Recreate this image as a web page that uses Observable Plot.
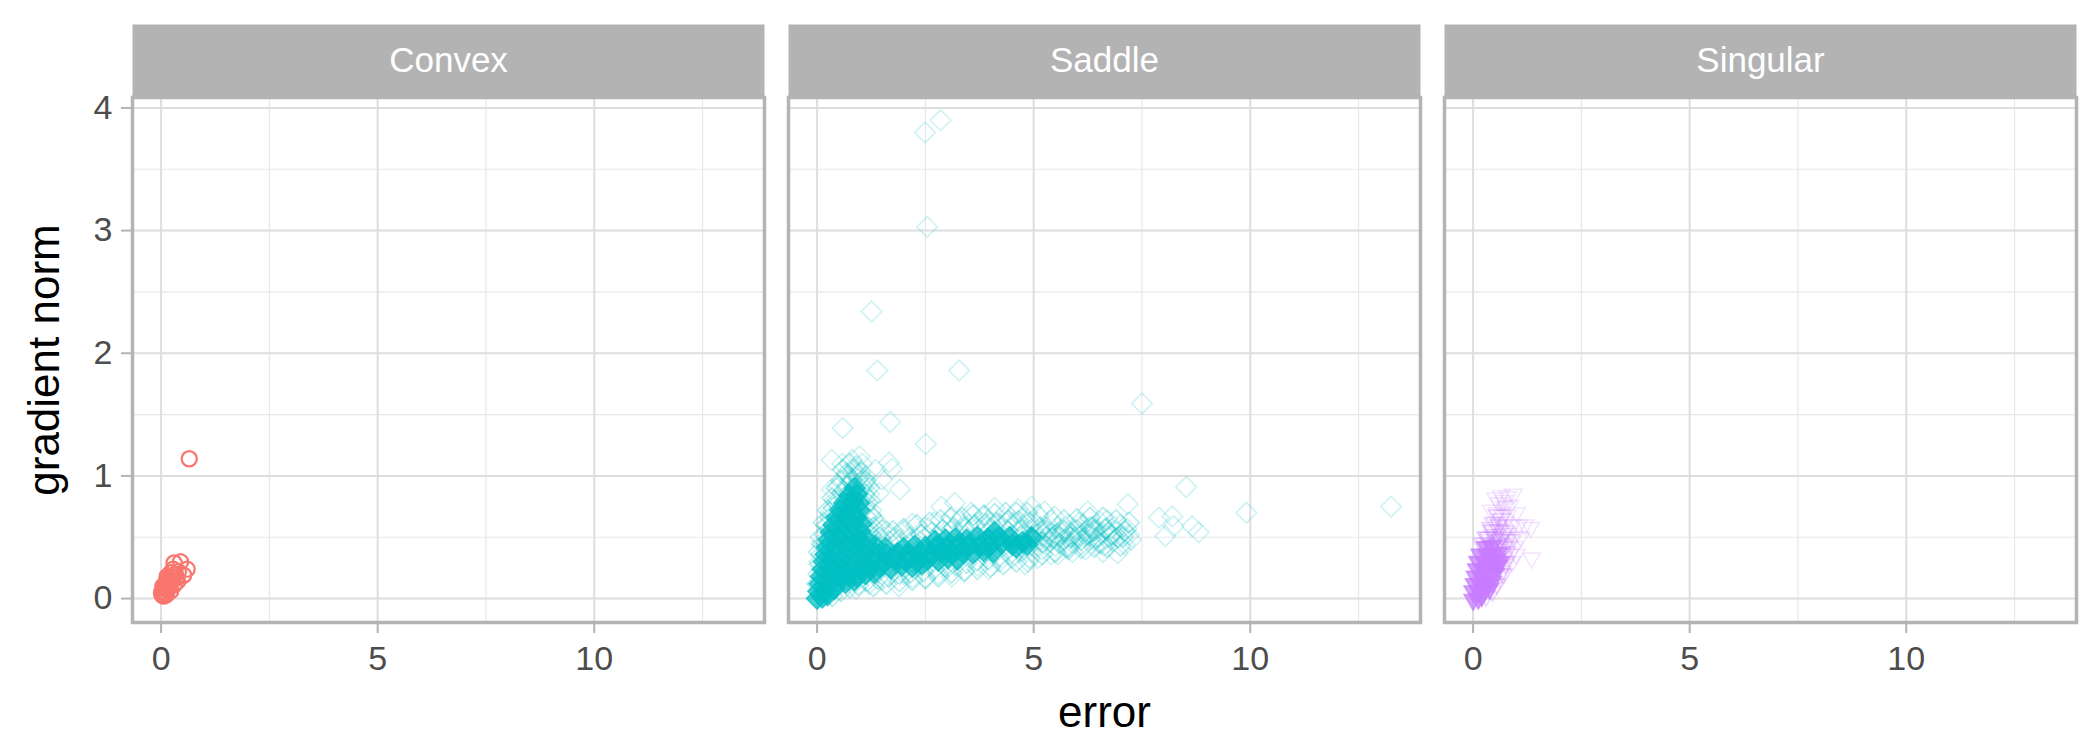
<!DOCTYPE html>
<html><head><meta charset="utf-8">
<script src="https://cdn.jsdelivr.net/npm/d3@7"></script>
<script src="https://cdn.jsdelivr.net/npm/@observablehq/plot@0.6"></script>
<style>html,body{margin:0;padding:0;background:#fff;} #chart{width:2100px;height:750px;}</style>
</head><body><div id="chart"></div>
<script>
// ---------- data ----------
const panels = ["Convex", "Saddle", "Singular"];
const xTicks = [0, 5, 10];
const xMinor = [2.5, 7.5, 12.5];
const yTicks = [0, 1, 2, 3, 4];
const yMinor = [0.5, 1.5, 2.5, 3.5];
const xTitle = "error";
const yTitle = "gradient norm";

// Convex: [error, gradient norm]
const convex = [
  [0.65,1.14],[0.45,0.30],[0.30,0.29],[0.60,0.24],[0.40,0.22],[0.52,0.19],[0.28,0.24],[0.22,0.21],
  [0.35,0.17],[0.18,0.17],[0.25,0.14],[0.12,0.14],[0.30,0.11],[0.20,0.10],[0.10,0.09],[0.15,0.07],
  [0.05,0.06],[0.08,0.04],[0.02,0.03],[0.12,0.03],[0.04,0.10],[0.22,0.06],[0.17,0.12],[0.38,0.14],
  [0.06,0.02],[0.14,0.18],[0.26,0.18],[0.10,0.12],[0.01,0.05],[0.33,0.20],[0.20,0.15],[0.07,0.08]
];

// Saddle: dense core of the cloud
const saddleCore = [
  [0.00,0.00],[0.12,0.01],[0.24,0.03],
  [0.03,0.06],[0.21,0.07],[0.40,0.08],
  [0.06,0.12],[0.25,0.13],[0.46,0.12],[0.66,0.13],[0.86,0.15],
  [0.09,0.18],[0.30,0.19],[0.51,0.18],[0.72,0.19],[0.92,0.18],[1.12,0.20],[1.32,0.21],
  [0.13,0.24],[0.34,0.25],[0.56,0.24],[0.78,0.25],[1.00,0.24],[1.22,0.25],[1.46,0.26],[1.70,0.25],[1.95,0.27],[2.20,0.26],[2.42,0.28],
  [0.16,0.30],[0.38,0.31],[0.61,0.30],[0.83,0.31],[1.06,0.30],[1.30,0.31],[1.55,0.30],[1.80,0.32],[2.05,0.31],[2.31,0.30],[2.56,0.32],[2.80,0.31],[3.02,0.33],[3.24,0.32],
  [0.20,0.36],[0.42,0.37],[0.65,0.36],[0.88,0.37],[1.10,0.36],[1.35,0.37],[1.60,0.36],[1.86,0.37],[2.10,0.36],[2.36,0.37],[2.61,0.36],[2.86,0.38],[3.11,0.37],[3.36,0.38],[3.60,0.37],[3.85,0.39],[4.06,0.38],
  [0.23,0.42],[0.46,0.43],[0.68,0.42],[0.90,0.43],[1.12,0.42],[1.34,0.43],[1.58,0.41],[2.00,0.41],[2.26,0.43],[2.50,0.42],[2.76,0.43],[3.00,0.42],[3.26,0.44],[3.50,0.43],[3.76,0.44],[4.00,0.43],[4.26,0.45],[4.50,0.44],[4.74,0.46],
  [0.27,0.48],[0.50,0.49],[0.72,0.48],[0.95,0.49],[1.15,0.48],[2.72,0.47],[2.96,0.48],[3.20,0.49],[3.45,0.48],[3.70,0.50],[3.95,0.49],[4.20,0.50],[4.45,0.50],[4.95,0.50],
  [0.32,0.54],[0.55,0.55],[0.78,0.54],[1.00,0.55],[4.10,0.54],[4.60,0.42],[4.85,0.44],
  [0.38,0.60],[0.60,0.61],[0.82,0.60],[1.02,0.61],
  [0.45,0.66],[0.67,0.67],[0.90,0.66],
  [0.53,0.72],[0.75,0.73],[0.97,0.72],
  [0.63,0.78],[0.82,0.79],[0.97,0.78],
  [0.75,0.84],[0.92,0.85],
  [0.87,0.90]
];

// Saddle: points of medium density around the core and along the right end of the band
const saddleMid = [
  [0.00,0.12],[0.03,0.20],[0.06,0.28],[0.10,0.36],[0.13,0.44],[0.18,0.52],[0.24,0.60],[0.30,0.66],
  [0.38,0.74],[0.48,0.80],[0.58,0.86],[0.70,0.92],[0.80,0.97],[0.95,0.98],[1.05,0.92],[1.10,0.85],
  [1.12,0.75],[1.15,0.66],[1.18,0.58],[1.25,0.52],[1.45,0.50],[1.65,0.47],[1.90,0.48],[2.15,0.50],
  [2.40,0.52],[2.65,0.54],[2.90,0.56],[3.15,0.58],[3.40,0.58],[3.65,0.60],[3.90,0.61],[4.15,0.62],
  [4.40,0.63],[4.65,0.63],[4.90,0.62],
  [0.35,0.02],[0.55,0.06],[0.75,0.09],[0.95,0.11],[1.15,0.14],[1.40,0.16],[1.65,0.18],[1.90,0.20],
  [2.15,0.21],[2.45,0.22],[2.70,0.24],[2.95,0.26],[3.20,0.27],[3.45,0.29],[3.70,0.31],[3.95,0.32],
  [4.20,0.34],[4.45,0.36],[4.70,0.38],
  [4.70,0.51],[4.40,0.55],[4.72,0.56],[5.05,0.52],[5.20,0.46],
  [5.30,0.55],[5.45,0.50],[5.60,0.45],[5.70,0.55],[5.85,0.50],[6.00,0.56],[6.10,0.48],[6.25,0.52],
  [6.40,0.55],[6.50,0.50],[6.65,0.57],[6.80,0.52],[6.95,0.50],[7.10,0.55],[5.00,0.48],[5.50,0.52],
  [6.30,0.58],[5.15,0.58],[5.80,0.42],[6.55,0.45],
  [0.25,0.72],[0.35,0.82],[0.45,0.90],[0.55,0.96],[0.68,1.02],[0.85,1.05],[1.00,1.03],[1.12,0.96],
  [1.20,0.90],[1.22,0.80],[1.25,0.68],[1.30,0.58],[0.15,0.62],[0.08,0.50],[0.04,0.38],[0.90,1.08],
  [0.60,1.05],[0.75,1.10],
  [1.50,0.56],[1.75,0.55],[2.00,0.57],[2.30,0.60],[2.60,0.62],[2.85,0.64],[3.10,0.66],[3.35,0.66],
  [3.60,0.68],[3.85,0.68],[4.10,0.69],[4.35,0.70],[4.60,0.70],[4.85,0.70],[5.10,0.68],[5.40,0.64],
  [5.70,0.64],[6.00,0.65],[6.30,0.66],[6.60,0.66],[6.90,0.64],[7.20,0.62],
  [1.30,0.10],[1.60,0.12],[1.90,0.14],[2.20,0.15],[2.50,0.17],[2.80,0.18],[3.10,0.21],[3.40,0.22],
  [3.70,0.24],[4.00,0.26],[4.30,0.28],[4.60,0.30],[4.90,0.33],[5.20,0.36],[5.50,0.38],[5.80,0.40],
  [6.10,0.41],[6.40,0.42],[6.70,0.42],[7.00,0.43]
];

// Saddle: sparse points around and away from the core
const saddleScatter = [
  [2.85,3.90],[2.49,3.80],[2.54,3.03],[1.26,2.34],[1.39,1.86],[3.28,1.86],[7.50,1.59],[0.59,1.39],
  [1.69,1.44],[2.51,1.26],[0.34,1.13],[0.98,1.16],[1.66,1.11],[1.73,1.06],[1.91,0.89],[0.34,0.89],
  [0.58,1.10],[0.81,1.13],[1.04,1.10],[1.35,1.05],[1.50,0.97],[1.43,0.86],[1.12,1.00],[8.52,0.91],
  [9.91,0.70],[13.25,0.75],[7.17,0.77],[7.89,0.66],[8.20,0.67],[8.04,0.51],[8.23,0.59],[8.66,0.59],[8.81,0.54],
  [0.70,1.00],[0.90,1.02],[1.10,0.95],[0.50,0.92],[1.20,0.85],[1.25,0.72],[1.30,0.65],[0.40,0.80],
  [0.30,0.70],[0.20,0.60],[0.10,0.45],[0.05,0.30],[1.45,0.60],[1.60,0.55],[0.80,0.95],[1.00,0.90],
  [0.62,0.88],[1.15,0.78],
  [2.20,0.61],[2.87,0.75],[3.18,0.78],[3.56,0.70],[3.87,0.67],[4.10,0.74],[4.41,0.64],[4.64,0.73],
  [4.95,0.75],[5.25,0.71],[2.00,0.55],[2.50,0.58],[2.70,0.62],[3.00,0.60],[3.30,0.64],[3.50,0.60],
  [3.70,0.62],[4.00,0.62],[4.25,0.60],[4.55,0.62],[4.80,0.66],[5.00,0.62],[1.80,0.50],[2.40,0.52],
  [3.10,0.55],[3.40,0.56],[3.90,0.58],
  [1.89,0.10],[2.50,0.16],[3.11,0.18],[3.96,0.24],[4.80,0.28],[4.87,0.30],[1.50,0.15],[2.20,0.17],
  [2.80,0.20],[3.40,0.23],[3.70,0.27],[4.20,0.30],[4.50,0.33],[5.10,0.33],[1.20,0.12],[0.90,0.08],
  [2.00,0.20],[3.00,0.25],
  [4.50,0.48],[4.60,0.42],[4.70,0.55],[4.80,0.45],[4.90,0.50],[5.00,0.42],[5.00,0.56],[5.10,0.47],
  [5.20,0.52],[5.20,0.40],[5.30,0.58],[5.35,0.46],[5.40,0.54],[5.48,0.67],[5.50,0.43],[5.56,0.36],
  [5.60,0.50],[5.70,0.56],[5.71,0.48],[5.75,0.42],[5.80,0.60],[5.85,0.50],[5.90,0.45],[5.94,0.56],
  [6.00,0.52],[6.05,0.62],[6.09,0.51],[6.10,0.44],[6.20,0.55],[6.25,0.71],[6.30,0.48],[6.35,0.58],
  [6.40,0.59],[6.45,0.50],[6.50,0.45],[6.55,0.62],[6.60,0.54],[6.62,0.43],[6.70,0.64],[6.75,0.50],
  [6.80,0.57],[6.85,0.47],[6.90,0.55],[6.94,0.37],[7.00,0.60],[7.05,0.50],[7.08,0.51],[7.10,0.44],
  [7.15,0.57],[7.20,0.52],[7.25,0.48],[5.30,0.50],[5.55,0.58],[5.65,0.53],[6.15,0.60],[6.28,0.53],
  [6.42,0.56],[6.68,0.57],[5.95,0.49],[5.45,0.49],[5.15,0.55],[4.95,0.38],[5.40,0.36],[5.90,0.38],
  [6.20,0.40],[6.60,0.38]
];

// Singular: dense core, medium and sparse points
const singularCore = [
  [0.00,-0.01],[0.12,0.00],[0.20,0.02],
  [0.00,0.06],[0.13,0.06],[0.26,0.07],[0.38,0.08],
  [0.03,0.12],[0.17,0.12],[0.31,0.13],[0.45,0.14],
  [0.05,0.18],[0.20,0.18],[0.35,0.19],[0.50,0.20],
  [0.08,0.24],[0.23,0.24],[0.38,0.25],[0.52,0.26],[0.58,0.27],
  [0.11,0.30],[0.26,0.30],[0.41,0.31],[0.55,0.32],[0.62,0.30],
  [0.16,0.36],[0.31,0.36],[0.46,0.37],[0.58,0.37],
  [0.30,0.42],[0.45,0.43]
];
const singularMid = [
  [0.25,0.42],[0.40,0.44],[0.55,0.44],[0.65,0.38],[0.68,0.30],[0.62,0.20],[0.55,0.12],[0.45,0.06],
  [0.30,0.02],[0.35,0.50],[0.50,0.50],[0.62,0.48],[0.72,0.42],[0.45,0.56],[0.60,0.56],[0.75,0.55],
  [0.70,0.50],[0.80,0.48],[0.78,0.38],[0.75,0.30],[0.70,0.20],[0.60,0.60],[0.50,0.62],[0.40,0.58],
  [0.30,0.50],[0.20,0.45],[0.65,0.65],[0.55,0.68]
];
const singularScatter = [
  [0.52,0.82],[0.65,0.84],[0.80,0.83],[0.93,0.85],[0.60,0.78],[0.73,0.75],[0.85,0.76],[0.55,0.70],
  [0.68,0.68],[0.80,0.68],[0.45,0.62],[0.60,0.60],[0.75,0.62],[0.90,0.60],[1.05,0.60],[1.20,0.60],
  [1.33,0.58],[0.42,0.55],[0.55,0.52],[0.70,0.53],[0.83,0.53],[0.95,0.50],[1.10,0.50],[0.35,0.48],
  [0.50,0.46],[0.65,0.45],[0.80,0.44],[0.95,0.42],[0.60,0.40],[0.70,0.34],[0.75,0.28],[0.68,0.22],
  [1.35,0.33],[1.00,0.36],[0.85,0.36],[0.90,0.30],[0.30,0.50],[0.25,0.45],[0.38,0.42],[0.50,0.40],
  [0.42,0.72],[0.70,0.80],[1.00,0.70],[0.88,0.48],[0.62,0.49],[0.45,0.52]
];

const colors = {Convex: "#F8766D", Saddle: "#00BFC4", Singular: "#C77CFF"};

// ---------- symbols (ggplot shapes 5 and 6) ----------
const diamondSym = {draw(ctx, size) {
  const r = Math.sqrt(size / Math.PI);
  ctx.moveTo(0, -r); ctx.lineTo(r, 0); ctx.lineTo(0, r); ctx.lineTo(-r, 0); ctx.closePath();
}};
const triDownSym = {draw(ctx, size) {
  const r = Math.sqrt(size / Math.PI), h = r * Math.sqrt(3) / 2;
  ctx.moveTo(0, r); ctx.lineTo(h, -r / 2); ctx.lineTo(-h, -r / 2); ctx.closePath();
}};

const X = d => d[0], Y = d => d[1];
const grid = "#dedede", border = "#b3b3b3";
const open = (data, panel, symbol, r, op) => Plot.dot(data, {x: X, y: Y, fx: () => panel, r, symbol,
  fill: "none", stroke: colors[panel], strokeWidth: 1.6, strokeOpacity: op});
const solid = (data, panel, symbol, r, op) => Plot.dot(data, {x: X, y: Y, fx: () => panel, r, symbol,
  fill: colors[panel], fillOpacity: op, stroke: colors[panel], strokeWidth: 1.6, strokeOpacity: op});

const chart = Plot.plot({
  width: 2100, height: 750,
  marginLeft: 131, marginRight: 23, marginTop: 97, marginBottom: 128,
  style: {fontFamily: "'Liberation Sans', Arial, Helvetica, sans-serif", background: "#fff", overflow: "visible"},
  fx: {domain: panels, paddingInner: 0.037, paddingOuter: 0, axis: null, label: null},
  x: {domain: [-0.66, 13.93], label: null},
  y: {domain: [-0.195, 4.085], label: null},
  marks: [
    // strip backgrounds
    Plot.frame({fill: border, insetTop: -73, insetBottom: 525}),
    // grid
    Plot.gridX(xMinor, {stroke: "#e8e8e8", strokeOpacity: 1, strokeWidth: 1.2}),
    Plot.gridY(yMinor, {stroke: "#e8e8e8", strokeOpacity: 1, strokeWidth: 1.2}),
    Plot.gridX(xTicks, {stroke: grid, strokeOpacity: 1, strokeWidth: 2}),
    Plot.gridY(yTicks, {stroke: grid, strokeOpacity: 1, strokeWidth: 2}),
    // data
    Plot.dot(convex, {x: X, y: Y, fx: () => "Convex", r: 7.6, symbol: "circle", fill: "none",
      stroke: colors.Convex, strokeWidth: 2.2}),
    open(saddleScatter, "Saddle", diamondSym, 10.3, 0.2),
    open(saddleMid, "Saddle", diamondSym, 10.3, 0.3),
    solid(saddleCore, "Saddle", diamondSym, 10.6, 0.72),
    open(singularScatter, "Singular", triDownSym, 10, 0.2),
    open(singularMid, "Singular", triDownSym, 10, 0.32),
    solid(singularCore, "Singular", triDownSym, 10.3, 0.72),
    // panel border
    Plot.frame({stroke: border, strokeWidth: 3.5}),
    // axes
    Plot.axisX(xTicks, {tickSize: 11, tickPadding: 12, fontSize: 34, stroke: border, strokeWidth: 2,
      fill: "#4d4d4d", label: null, tickFormat: d => String(d)}),
    Plot.axisY(yTicks, {tickSize: 11, tickPadding: 9, fontSize: 34, stroke: border, strokeWidth: 2,
      fill: "#4d4d4d", label: null, tickFormat: d => String(d)}),
    // strip labels
    Plot.text(panels, {fx: d => d, text: d => d, frameAnchor: "top", dy: -37, lineAnchor: "middle",
      textAnchor: "middle", fill: "white", fontSize: 35}),
    // axis titles
    Plot.text([yTitle], {fx: () => "Convex", text: d => d, frameAnchor: "left", dx: -88, rotate: -90,
      textAnchor: "middle", lineAnchor: "middle", fontSize: 44, fill: "black"}),
    Plot.text([xTitle], {fx: () => "Saddle", text: d => d, frameAnchor: "bottom", dy: 90,
      textAnchor: "middle", lineAnchor: "middle", fontSize: 44, fill: "black"})
  ]
});
document.getElementById("chart").appendChild(chart);
</script>
</body></html>
